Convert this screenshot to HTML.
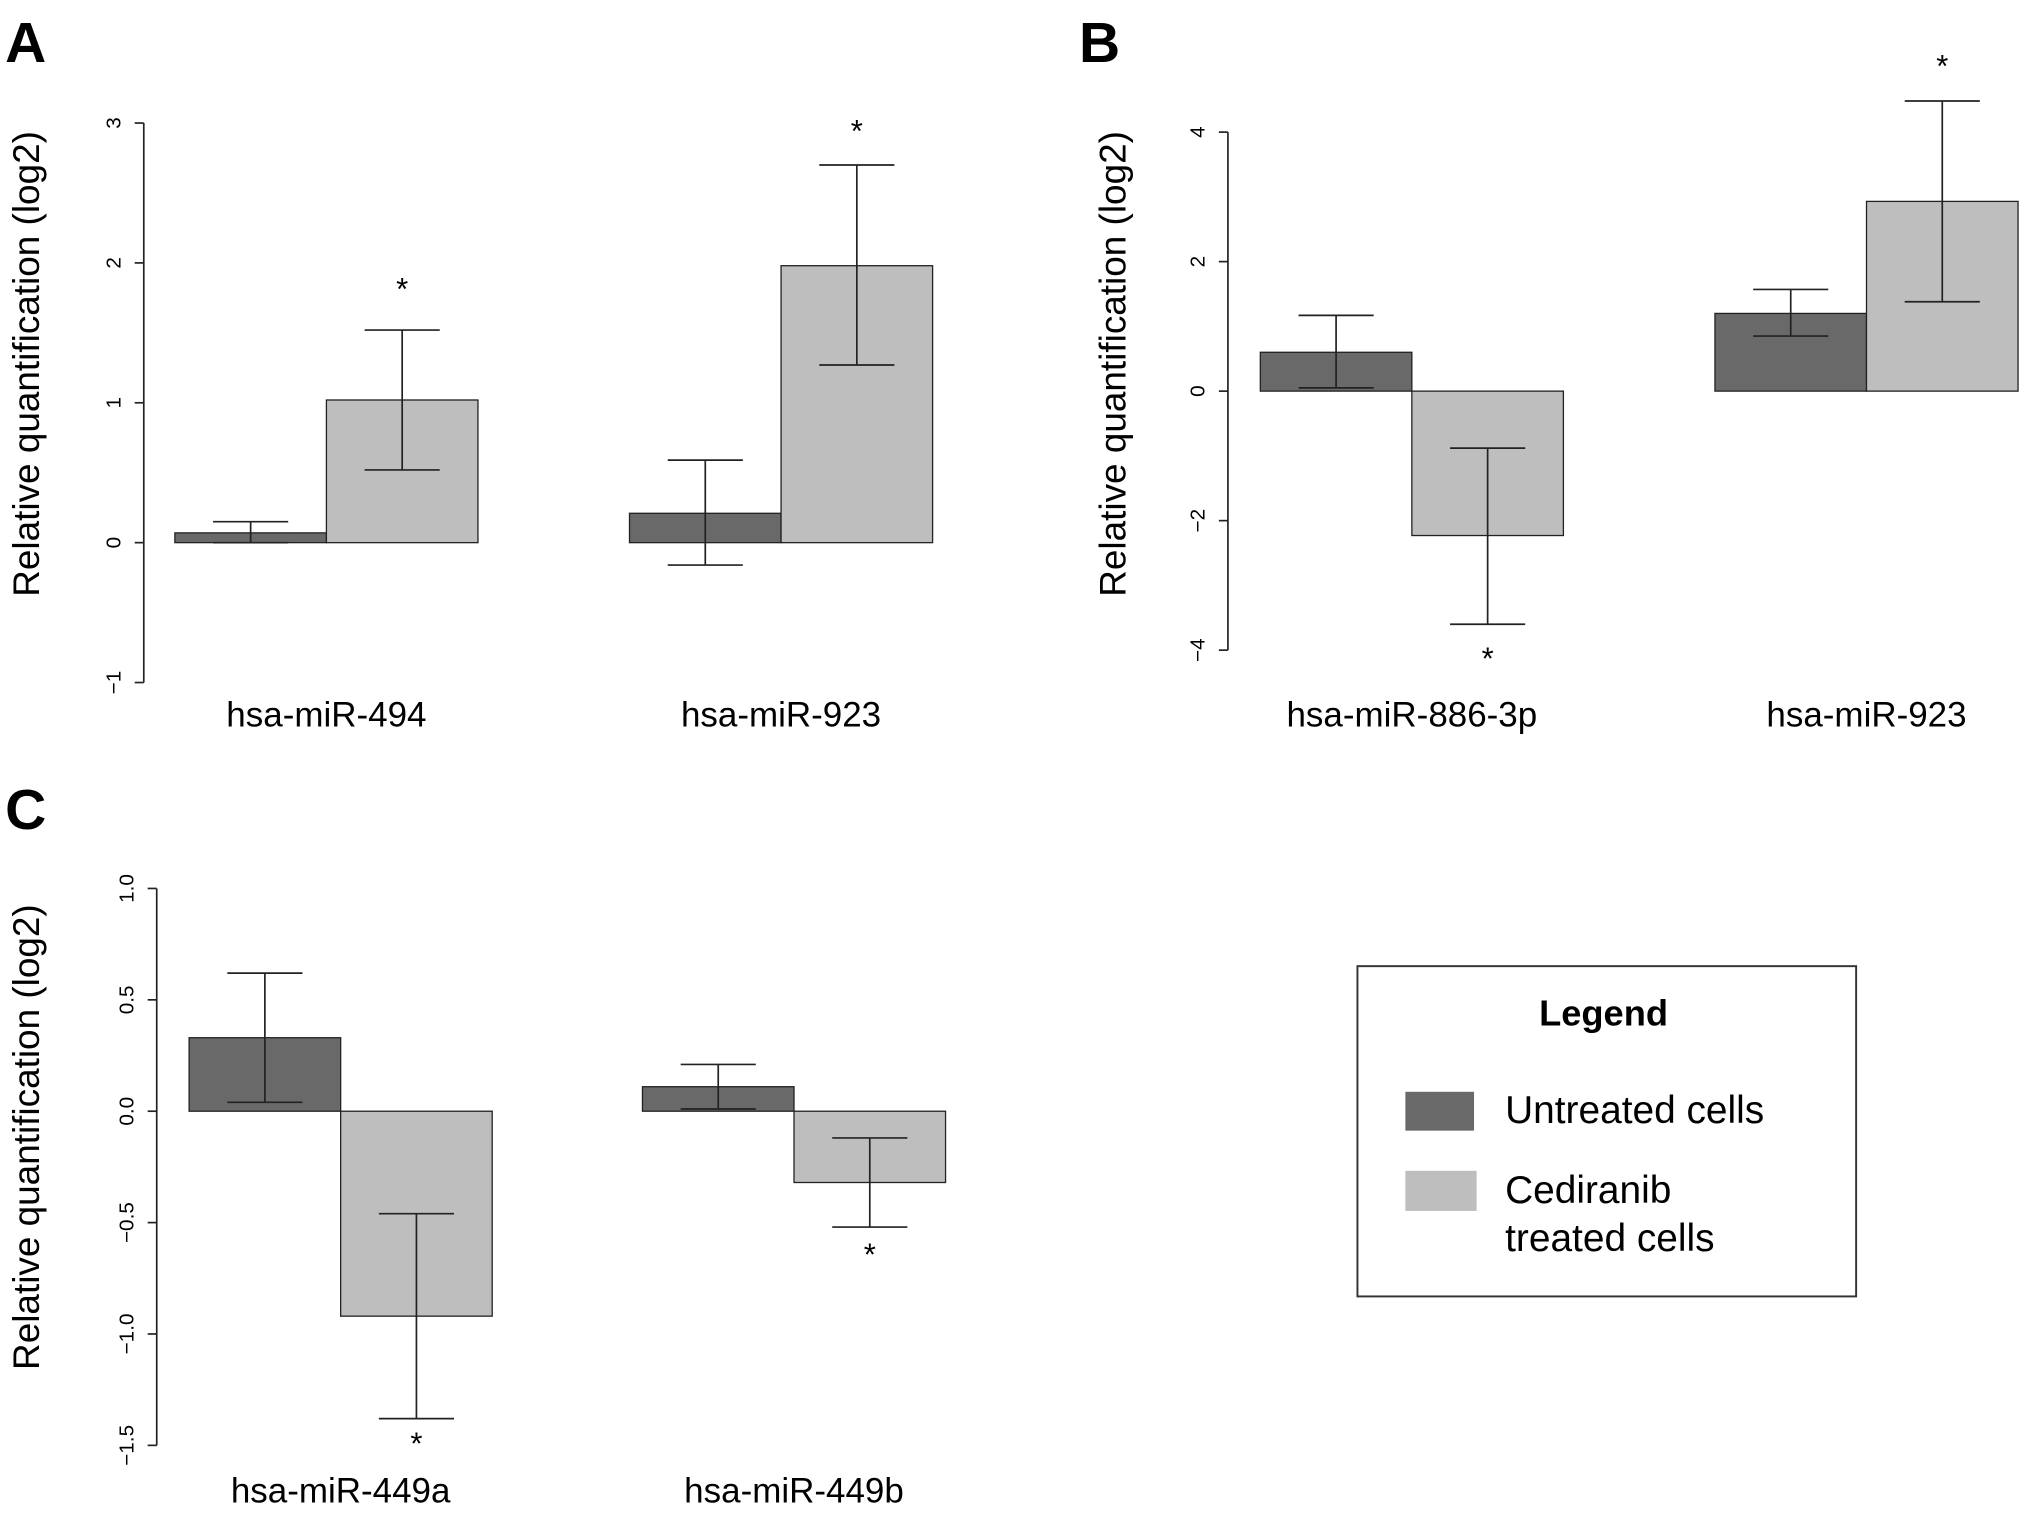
<!DOCTYPE html>
<html><head><meta charset="utf-8"><style>
html,body{margin:0;padding:0;background:#fff;}
svg{display:block;font-family:"Liberation Sans",Arial,sans-serif;}
</style></head><body>
<svg id="fig" width="2031" height="1514" viewBox="0 0 1568 1169" preserveAspectRatio="none" xmlns="http://www.w3.org/2000/svg">
<rect width="1568" height="1169" fill="#fff"/>
<text x="4" y="48" font-size="44" font-weight="bold">A</text>
<text x="833" y="48" font-size="44" font-weight="bold">B</text>
<text x="4" y="640" font-size="44" font-weight="bold">C</text>
<g id="plots"></g>
<g>
<rect x="1048" y="746" width="385" height="255" fill="#fff" stroke="#333" stroke-width="1.5"/>
<text x="1238" y="792" font-size="28" font-weight="bold" text-anchor="middle">Legend</text>
<rect x="1085" y="843" width="53" height="30" fill="#696969"/>
<text x="1162" y="867" font-size="30">Untreated cells</text>
<rect x="1085" y="904" width="55" height="31" fill="#bebebe"/>
<text x="1162" y="929" font-size="30">Cediranib</text>
<text x="1162" y="966" font-size="30">treated cells</text>
</g>
</svg>
<script>
// Panel A
const catsA = ["hsa-miR-494","hsa-miR-923"];
const untreatedA = [0.07,0.21];
const untreatedLoA = [0.0,-0.16];
const untreatedHiA = [0.15,0.59];
const treatedA = [1.02,1.98];
const treatedLoA = [0.52,1.27];
const treatedHiA = [1.52,2.70];
const starA = [1.85,2.98];
const ticksA = [-1,0,1,2,3];
const tickLabelsA = ["−1","0","1","2","3"];
// Panel B
const catsB = ["hsa-miR-886-3p","hsa-miR-923"];
const untreatedB = [0.6,1.2];
const untreatedLoB = [0.05,0.85];
const untreatedHiB = [1.17,1.57];
const treatedB = [-2.23,2.93];
const treatedLoB = [-3.6,1.38];
const treatedHiB = [-0.88,4.48];
const starB = [-4.05,5.1];
const ticksB = [-4,-2,0,2,4];
const tickLabelsB = ["−4","−2","0","2","4"];
// Panel C
const catsC = ["hsa-miR-449a","hsa-miR-449b"];
const untreatedC = [0.33,0.11];
const untreatedLoC = [0.04,0.01];
const untreatedHiC = [0.62,0.21];
const treatedC = [-0.92,-0.32];
const treatedLoC = [-1.38,-0.52];
const treatedHiC = [-0.46,-0.12];
const starC = [-1.47,-0.62];
const ticksC = [-1.5,-1.0,-0.5,0,0.5,1.0];
const tickLabelsC = ["−1.5","−1.0","−0.5","0.0","0.5","1.0"];

const NS="http://www.w3.org/2000/svg";
const root=document.getElementById('plots');
function mk(tag,attrs,parent){const e=document.createElementNS(NS,tag);for(const k in attrs)e.setAttribute(k,attrs[k]);(parent||root).appendChild(e);return e;}

function panel(id,cfg,cats,u,uLo,uHi,t,tLo,tHi,stars,ticks,tickLabels){
  const g=mk('g',{});
  
  
  const y=v=>cfg.y0+(v-cfg.v0)*(cfg.y1-cfg.y0)/(cfg.v1-cfg.v0);
  const ax=mk('line',{x1:cfg.axX,x2:cfg.axX,y1:y(ticks[0]),y2:y(ticks[ticks.length-1]),stroke:'#222','stroke-width':1.3},g);
  
  
  ticks.forEach((tv,i)=>{
    const tk=mk('line',{x1:cfg.axX-7,x2:cfg.axX,y1:y(tv),y2:y(tv),stroke:'#222','stroke-width':1.3},g);
    
    
    const tl=mk('text',{x:0,y:0,'font-size':16,'text-anchor':'middle',transform:`translate(${cfg.axX-18},${y(tv)}) rotate(-90)`},g);
    tl.textContent=tickLabels[i];
    
    
  });
  const tt=mk('text',{x:0,y:0,'font-size':28.5,'text-anchor':'middle',transform:`translate(${cfg.titleX},${cfg.titleY}) rotate(-90)`},g);
  tt.textContent='Relative quantification (log2)';
  
  
  const bw=117;
  cats.forEach((c,i)=>{
    const gx=cfg.gx[i];
    const series=[[u[i],uLo[i],uHi[i],'#696969',gx,'untreated'],[t[i],tLo[i],tHi[i],'#bebebe',gx+bw,'treated']];
    series.forEach(([v,lo,hi,col,x,nm])=>{
      const top=Math.min(y(v),y(0)),h=Math.abs(y(v)-y(0));
      const b=mk('rect',{x:x,y:top,width:bw,height:Math.max(h,0.5),fill:col,stroke:'#222','stroke-width':1},g);
      
      
      const cx=x+bw/2;
      const e=mk('path',{d:`M${cx},${y(lo)}V${y(hi)}M${cx-29},${y(lo)}H${cx+29}M${cx-29},${y(hi)}H${cx+29}`,stroke:'#222','stroke-width':1.3,fill:'none'},g);
      
      
    });
    const s=mk('text',{x:gx+bw*1.5,y:y(stars[i])+12,'font-size':24,'text-anchor':'middle'},g);
    s.textContent='*';
    
    
    const cl=mk('text',{x:gx+bw,y:cfg.catY,'font-size':27,'text-anchor':'middle'},g);
    cl.textContent=c;
    
    
  });
}
panel('a',{axX:111,v0:0,y0:419,v1:3,y1:95,titleX:30,titleY:281,gx:[135,486],catY:561},catsA,untreatedA,untreatedLoA,untreatedHiA,treatedA,treatedLoA,treatedHiA,starA,ticksA,tickLabelsA);
panel('b',{axX:948,v0:0,y0:302,v1:4,y1:102,titleX:869,titleY:281,gx:[973,1324],catY:561},catsB,untreatedB,untreatedLoB,untreatedHiB,treatedB,treatedLoB,treatedHiB,starB,ticksB,tickLabelsB);
panel('c',{axX:121,v0:0,y0:858,v1:1,y1:686,titleX:30,titleY:878,gx:[146,496],catY:1160},catsC,untreatedC,untreatedLoC,untreatedHiC,treatedC,treatedLoC,treatedHiC,starC,ticksC,tickLabelsC);
</script>
</body></html>
